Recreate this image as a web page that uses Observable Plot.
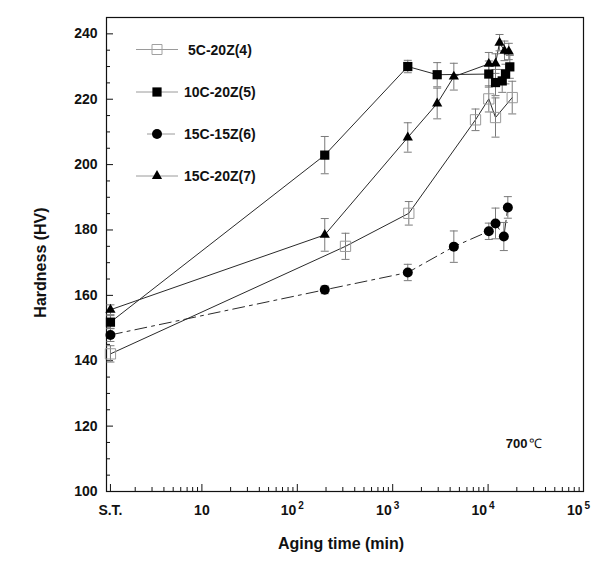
<!DOCTYPE html>
<html><head><meta charset="utf-8">
<script src="https://cdn.jsdelivr.net/npm/d3@7"></script>
<script src="https://cdn.jsdelivr.net/npm/@observablehq/plot@0.6"></script>
<style>
body{margin:0;background:#fff;}
#wrap{position:relative;width:600px;height:566px;}
#legend{position:absolute;left:0;top:0;pointer-events:none;}
svg text{font-family:"Liberation Sans",Arial,sans-serif;}
</style></head><body><div id="wrap"></div>
<script>
// S.T. (solution treated) plotted just right of the left edge
const ST = 1.1;
const seriesNames = ["5C-20Z(4)", "10C-20Z(5)", "15C-15Z(6)", "15C-20Z(7)"];

const time4 = [ST, 320, 1475, 7380, 10170, 11960, 17900];
const hv4   = [142.1, 175.0, 185.1, 213.7, 220.1, 214.4, 220.5];
const err4  = [2.5, 4.0, 3.6, 3.3, 4.0, 6.0, 5.0];

const time5 = [ST, 194, 1439, 2926, 10170, 11960, 14060, 15210, 16890];
const hv5   = [151.8, 202.9, 230.0, 227.5, 227.7, 225.1, 225.6, 227.7, 229.9];
const err5  = [2.0, 5.7, 1.9, 3.7, 4.0, 4.0, 3.5, 3.0, 3.5];

const time6 = [ST, 194, 1439, 4374, 10170, 11960, 14620, 16100];
const hv6   = [147.9, 161.7, 167.0, 174.9, 179.6, 182.0, 178.0, 186.9];
const err6  = [2.0, 1.2, 2.5, 4.8, 2.5, 4.7, 4.3, 3.3];

const time7 = [ST, 194, 1439, 2926, 4374, 10170, 11960, 13180, 14850, 16480];
const hv7   = [155.6, 178.5, 208.3, 218.7, 226.9, 230.8, 230.9, 237.3, 234.8, 234.6];
const err7  = [1.5, 5.0, 4.5, 4.7, 4.1, 3.5, 3.0, 2.5, 3.0, 2.5];

const xMajor = [ST, 10, 100, 1000, 10000, 100000];
const xPlainLabels = [{t: ST, label: "S.T."}, {t: 10, label: "10"}];
const xPowLabels = [{t: 100, base: "10", exp: "2"}, {t: 1000, base: "10", exp: "3"}, {t: 10000, base: "10", exp: "4"}, {t: 100000, base: "10", exp: "5"}];
const yMajor = [100, 120, 140, 160, 180, 200, 220, 240];
const tempLabel = "700";
const tempUnit = "℃";
const xTitle = "Aging time (min)";
const yTitle = "Hardness (HV)";

const toRows = (name, t, v, e) => t.map((d, i) => ({series: name, t: d, hv: v[i], err: e[i]}));
const r4 = toRows(seriesNames[0], time4, hv4, err4);
const r5 = toRows(seriesNames[1], time5, hv5, err5);
const r6 = toRows(seriesNames[2], time6, hv6, err6);
const r7 = toRows(seriesNames[3], time7, hv7, err7);
const all = [...r4, ...r5, ...r6, ...r7];

const xMinor = [];
for (let k = 0; k < 5; k++) for (let m = 2; m <= 9; m++) xMinor.push(m * Math.pow(10, k));
const yMinor = d3.range(105, 245, 5).filter(v => v % 20 !== 0);

const cap = {draw(ctx, size) { const r = Math.sqrt(size / Math.PI); ctx.moveTo(-r, 0); ctx.lineTo(r, 0); }};

const W = 600, H = 566, mL = 106, mR = 17, mT = 17, mB = 75;
const fw = W - mL - mR, fh = H - mT - mB;
const errColor = "#7a7a7a";
const lineColor = "#2a2a2a";
const font = {fontWeight: "bold", fill: "#111"};

const chart = Plot.plot({
  width: W, height: H,
  marginLeft: mL, marginRight: mR, marginTop: mT, marginBottom: mB,
  x: {type: "log", domain: [1, 100000], axis: null},
  y: {domain: [100, 245], axis: null},
  style: {fontFamily: "Liberation Sans, Arial, sans-serif", background: "#fff"},
  marks: [
    Plot.frame({stroke: "#111", strokeWidth: 1.2}),
    // ticks (inward)
    Plot.tickX(xMajor, {x: d => d, insetTop: fh - 7, stroke: "#111"}),
    Plot.tickX(xMinor, {x: d => d, insetTop: fh - 4, stroke: "#111"}),
    Plot.tickY(yMajor, {y: d => d, insetRight: fw - 7, stroke: "#111"}),
    Plot.tickY(yMinor, {y: d => d, insetRight: fw - 4, stroke: "#111"}),
    // tick labels
    Plot.text(yMajor, {y: d => d, frameAnchor: "left", dx: -9, textAnchor: "end", text: d => String(d), fontSize: 14, ...font}),
    Plot.text(xPlainLabels, {x: "t", frameAnchor: "bottom", dy: 23, text: "label", textAnchor: "middle", fontSize: 14, ...font}),
    Plot.text(xPowLabels, {x: "t", frameAnchor: "bottom", dy: 23, dx: -1, text: "base", textAnchor: "end", fontSize: 14, ...font}),
    Plot.text(xPowLabels, {x: "t", frameAnchor: "bottom", dy: 17, dx: 1, text: "exp", textAnchor: "start", fontSize: 10, ...font}),
    // axis titles
    Plot.text([xTitle], {frameAnchor: "bottom", dy: 57, dx: -4, text: d => d, fontSize: 16, ...font}),
    Plot.text([yTitle], {frameAnchor: "left", dx: -66, dy: 8, rotate: -90, textAnchor: "middle", text: d => d, fontSize: 16, ...font}),
    // temperature annotation
    Plot.text([tempLabel], {frameAnchor: "bottom-right", dx: -56, dy: -44, textAnchor: "end", text: d => d, fontSize: 13, ...font}),
    Plot.text([tempUnit], {frameAnchor: "bottom-right", dx: -55, dy: -44, textAnchor: "start", text: d => d, fontSize: 13, fill: "#111"}),
    // lines
    Plot.line(r4, {x: "t", y: "hv", stroke: lineColor, strokeWidth: 1}),
    Plot.line(r5, {x: "t", y: "hv", stroke: lineColor, strokeWidth: 1}),
    Plot.line(r7, {x: "t", y: "hv", stroke: lineColor, strokeWidth: 1}),
    Plot.line(r6, {x: "t", y: "hv", stroke: lineColor, strokeWidth: 1, strokeDasharray: "12,5,3,5"}),
    // error bars
    Plot.ruleX(all, {x: "t", y1: d => d.hv - d.err, y2: d => d.hv + d.err, stroke: errColor, strokeWidth: 1}),
    Plot.dot(all, {x: "t", y: d => d.hv + d.err, symbol: cap, r: 4, fill: "none", stroke: errColor, strokeWidth: 1}),
    Plot.dot(all, {x: "t", y: d => d.hv - d.err, symbol: cap, r: 4, fill: "none", stroke: errColor, strokeWidth: 1}),
    // markers
    Plot.dot(r4, {x: "t", y: "hv", symbol: "square", r: 5.8, fill: "none", stroke: "#9a9a9a", strokeWidth: 1}),
    Plot.dot(r5, {x: "t", y: "hv", symbol: "square", r: 5.2, fill: "#000", stroke: "none"}),
    Plot.dot(r6, {x: "t", y: "hv", symbol: "circle", r: 5, fill: "#000", stroke: "none"}),
    Plot.dot(r7, {x: "t", y: "hv", symbol: "triangle", r: 3.8, fill: "#000", stroke: "none"})
  ]
});
document.getElementById("wrap").appendChild(chart);

// legend overlay
const legendItems = [
  {name: seriesNames[0], y: 49.5, x1: 136, x2: 178, sx: 157, tx: 188, sym: d3.symbolSquare, size: 100, fill: "none", stroke: "#a0a0a0"},
  {name: seriesNames[1], y: 92, x1: 136, x2: 178, sx: 157, tx: 184, sym: d3.symbolSquare, size: 85, fill: "#000", stroke: "none"},
  {name: seriesNames[2], y: 134, x1: 147, x2: 175, sx: 157, tx: 184, sym: d3.symbolCircle, size: 78, fill: "#000", stroke: "none"},
  {name: seriesNames[3], y: 176, x1: 136, x2: 178, sx: 157, tx: 184, sym: d3.symbolTriangle, size: 45, fill: "#000", stroke: "none"}
];
const leg = d3.select("#wrap").append("svg").attr("id", "legend").attr("width", W).attr("height", H);
const g = leg.selectAll("g").data(legendItems).join("g");
g.append("line").attr("x1", d => d.x1).attr("x2", d => d.x2).attr("y1", d => d.y).attr("y2", d => d.y).attr("stroke", "#9a9a9a").attr("stroke-width", 1);
g.append("path").attr("transform", d => `translate(${d.sx},${d.y})`).attr("d", d => d3.symbol(d.sym, d.size)()).attr("fill", d => d.fill).attr("stroke", d => d.stroke);
g.append("text").attr("x", d => d.tx).attr("y", d => d.y + 5).attr("font-size", 14).attr("font-weight", "bold").attr("fill", "#111").text(d => d.name);
</script></body></html>
